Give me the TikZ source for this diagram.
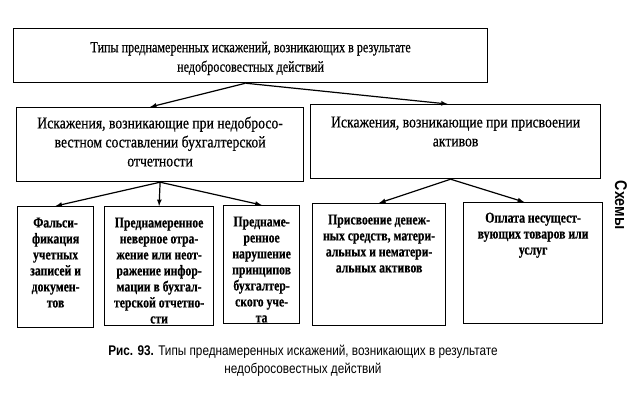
\documentclass[tikz,border=0pt]{standalone}
\usepackage{fontspec}
\setmainfont{Liberation Serif}[FakeStretch=0.78, FakeBold=0.5]
\newfontfamily\midserif{Liberation Serif}[FakeStretch=0.83, FakeBold=0.5]
\setsansfont{Liberation Sans}[FakeStretch=0.84]
\usetikzlibrary{calc}

% text block of a box: [top pad]{width}{height}{lines}
\newcommand{\boxtext}[4][11pt]{\parbox[c][#3pt][t]{#2pt}{\vspace*{#1}\centering #4\par}}

\tikzset{
	cell/.style={draw, rectangle, line width=1.2pt, anchor=north west, inner sep=0pt},
	headfont/.style={font=\fontsize{15.5}{19.5}\selectfont},
	midfont/.style={font=\midserif\fontsize{16.5}{19}\selectfont},
	leaffont/.style={font=\bfseries\fontsize{15}{16}\selectfont},
	link/.style={->, >=latex, line width=1.2pt}
}

\begin{document}
\begin{tikzpicture}[x=1pt, y=-1pt]
	\useasboundingbox[fill=white] (0,0) rectangle (636,408);

	\node[cell, headfont] (top) at (13,28)
		{\boxtext[13pt]{474}{54}{Типы преднамеренных искажений, возникающих в результате\\недобросовестных действий}};

	\node[cell, midfont] (left) at (16,107)
		{\boxtext[9pt]{287}{74}{Искажения, возникающие при недобросо-\\вестном составлении бухгалтерской\\отчетности}};
	\node[cell, midfont] (right) at (310,104)
		{\boxtext[12pt]{290}{74}{Искажения, возникающие при присвоении\\активов}};

	\node[cell, leaffont] (forge) at (17,206)
		{\boxtext{76}{121}{Фальси-\\фикация\\учетных\\записей и\\докумен-\\тов}};
	\node[cell, leaffont] (misstate) at (104,206)
		{\boxtext{109}{119}{Преднамеренное\\неверное отра-\\жение или неот-\\ражение инфор-\\мации в бухгал-\\терской отчетно-\\сти}};
	\node[cell, leaffont] (breach) at (223,205)
		{\boxtext{76}{118}{Преднаме-\\ренное\\нарушение\\принципов\\бухгалтер-\\ского уче-\\та}};
	\node[cell, leaffont] (assets) at (312,203)
		{\boxtext{133}{122}{Присвоение денеж-\\ных средств, матери-\\альных и нематери-\\альных активов}};
	\node[cell, leaffont] (payment) at (463,202)
		{\boxtext[10pt]{139}{121}{Оплата несущест-\\вующих товаров или\\услуг}};

	\draw[link] ([xshift=-5pt]top.south) -- ([xshift=-10pt]left.north);
	\draw[link] ([xshift=-5pt]top.south) -- ([xshift=-8pt]right.north);

	\draw[link] (left.south) -- (forge.north);
	\draw[link] (left.south) -- (misstate.north);
	\draw[link] (left.south) -- (breach.north);

	\draw[link] ([xshift=-5pt]right.south) -- (assets.north);
	\draw[link] ([xshift=-5pt]right.south) -- ([xshift=-9pt]payment.north);

	\node[rotate=-90, font=\sffamily\bfseries\fontsize{17}{17}\selectfont] (side) at (621,205) {Схемы};

	\node[align=center, font=\sffamily\fontsize{14}{18}\selectfont] (caption) at (303,361)
		{\textbf{Рис. 93.} Типы преднамеренных искажений, возникающих в результате\\недобросовестных действий};
\end{tikzpicture}
\end{document}
